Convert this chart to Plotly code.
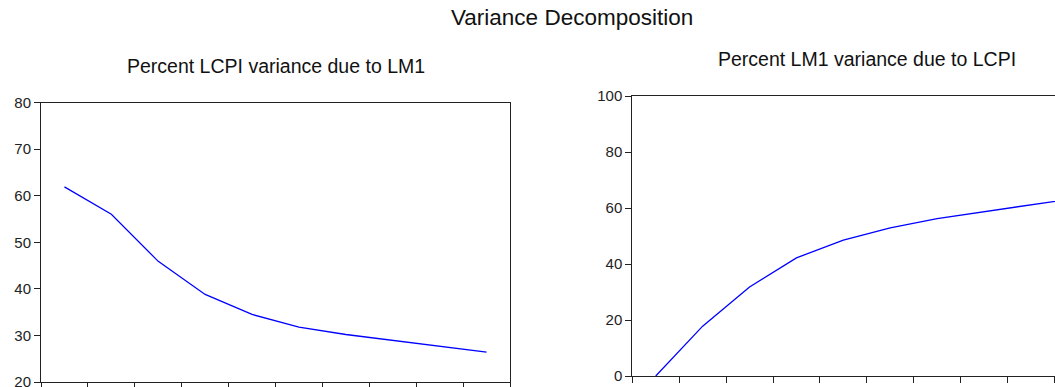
import plotly.graph_objects as go

# Data
periods = [1, 2, 3, 4, 5, 6, 7, 8, 9, 10]
lcpi_due_to_lm1 = [61.9, 56.0, 45.9, 38.8, 34.5, 31.8, 30.2, 28.9, 27.6, 26.4]
lm1_due_to_lcpi = [0.0, 17.8, 31.8, 42.2, 48.5, 52.9, 56.2, 58.8, 61.3, 63.6]
left_yticks = [20, 30, 40, 50, 60, 70, 80]
right_yticks = [0, 20, 40, 60, 80, 100]
main_title = "Variance Decomposition"
left_title = "Percent LCPI variance due to LM1"
right_title = "Percent LM1 variance due to LCPI"

W, H = 1055, 387
FONT = "Liberation Sans, Arial, sans-serif"
AX = "#222222"
LINE = "#0000FF"

fig = go.Figure()
fig.add_trace(go.Scatter(x=periods, y=lcpi_due_to_lm1, mode="lines",
                         line=dict(color=LINE, width=1.3), xaxis="x", yaxis="y",
                         showlegend=False, hoverinfo="skip"))
fig.add_trace(go.Scatter(x=periods, y=lm1_due_to_lcpi, mode="lines",
                         line=dict(color=LINE, width=1.3), xaxis="x2", yaxis="y2",
                         showlegend=False, hoverinfo="skip"))

def xax(domain, rng, anchor, ticks):
    return dict(domain=domain, range=rng, anchor=anchor, showgrid=False, zeroline=False,
                showline=True, linecolor=AX, linewidth=1, mirror=True,
                ticks="outside", ticklen=6, tickwidth=1, tickcolor=AX,
                tickvals=ticks, ticktext=["" for _ in ticks], automargin=False,
                fixedrange=True)

def yax(domain, rng, anchor, ticks, mirror):
    return dict(domain=domain, range=rng, anchor=anchor, showgrid=False, zeroline=False,
                showline=True, linecolor=AX, linewidth=1, mirror=mirror,
                ticks="outside", ticklen=6, tickwidth=1, tickcolor=AX,
                tickvals=ticks, ticktext=[str(t) for t in ticks],
                tickfont=dict(family=FONT, size=15, color=AX), automargin=False,
                ticklabeloverflow="allow", fixedrange=True)

lx = [41 / W, 510 / W]
ly = [(H - 382) / H, (H - 102.5) / H]
rx = [632.3 / W, 1.0]
ry = [(H - 376) / H, (H - 96) / H]
spacing = (510 - 41) / 10.0
r_hi = 0.5 + (W - 632.3) / spacing

fig.update_layout(
    width=W, height=H, margin=dict(l=0, r=0, t=0, b=0),
    paper_bgcolor="white", plot_bgcolor="white",
    xaxis=xax(lx, [0.5, 10.5], "y", [i + 0.5 for i in range(0, 11)]),
    yaxis=yax(ly, [20, 80], "x", left_yticks, True),
    xaxis2=xax(rx, [0.5, r_hi], "y2", [i + 0.5 for i in range(0, 10)]),
    yaxis2=yax(ry, [0, 100], "x2", right_yticks, False),
    annotations=[
        dict(text=main_title, x=571.5 / W, y=1 - 18 / H, xref="paper", yref="paper",
             xanchor="center", yanchor="middle", showarrow=False,
             font=dict(family=FONT, size=22.5, color="#111111")),
        dict(text=left_title, x=276.3 / W, y=1 - 65.7 / H, xref="paper", yref="paper",
             xanchor="center", yanchor="middle", showarrow=False,
             font=dict(family=FONT, size=19.5, color="#111111")),
        dict(text=right_title, x=866.7 / W, y=1 - 59.3 / H, xref="paper", yref="paper",
             xanchor="center", yanchor="middle", showarrow=False,
             font=dict(family=FONT, size=19.5, color="#111111")),
    ],
)

fig.write_html("out.html", config={"displayModeBar": False})
